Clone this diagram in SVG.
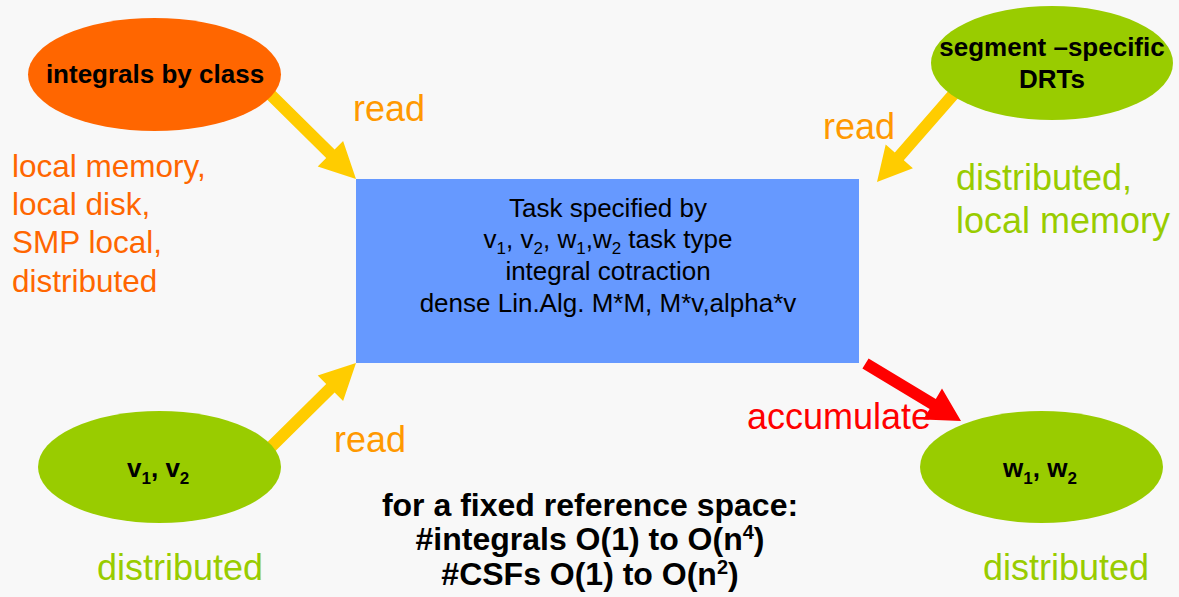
<svg xmlns="http://www.w3.org/2000/svg" width="1179" height="597" viewBox="0 0 1179 597">
<style>
text { font-family: "Liberation Sans", Arial, sans-serif; }
.bold { font-weight: bold; fill: #000; }
.node-label { font-size: 26px; text-anchor: middle; }
.box-label { font-size: 26px; fill: #000; text-anchor: middle; }
.read { font-size: 36px; fill: #ff9900; }
.green { font-size: 36px; fill: #99cc00; }
.orange { font-size: 31.5px; fill: #ff6600; }
.accum { font-size: 36px; fill: #ff0000; }
.note { font-size: 32px; text-anchor: middle; }
.yarrow { fill: #ffcc00; }
.rarrow { fill: #ff0000; }
</style>
<rect x="0" y="0" width="1179" height="597" fill="#f8f8f8"/>

<g id="connectors">
  <polygon class="yarrow" points="262.2,94.8 326.2,158.0 317.7,166.5 356,179 343.1,140.9 334.6,149.4 270.6,86.2"/>
  <polygon class="yarrow" points="951.4,87.6 894.8,152.5 885.7,144.6 877,182 912.9,168.2 903.8,160.3 960.4,95.4"/>
  <polygon class="yarrow" points="262.2,447.2 326.2,384.0 317.7,375.5 356,363 343.1,401.1 334.6,392.6 270.6,455.8"/>
  <polygon class="rarrow" points="862.4,368.6 929.6,409.1 923.4,419.4 961,421 942.0,388.6 935.8,398.9 868.6,358.4"/>
  <text class="read" x="353" y="121">read</text>
  <text class="read" x="823" y="139">read</text>
  <text class="read" x="334" y="452">read</text>
  <text class="accum" x="747" y="429">accumulate</text>
</g>

<g id="integrals">
  <ellipse cx="154.5" cy="74.5" rx="126.5" ry="56.5" fill="#ff6600"/>
  <text class="bold node-label" x="155" y="83">integrals by class</text>
  <text class="orange" x="12" y="177">local memory,</text>
  <text class="orange" x="12" y="215">local disk,</text>
  <text class="orange" x="12" y="253">SMP local,</text>
  <text class="orange" x="12" y="292">distributed</text>
</g>

<g id="drts">
  <ellipse cx="1052" cy="63" rx="121" ry="57" fill="#99cc00"/>
  <text class="bold node-label" x="1052" y="56">segment –specific</text>
  <text class="bold node-label" x="1052" y="88">DRTs</text>
  <text class="green" x="956" y="190">distributed,</text>
  <text class="green" x="956" y="233">local memory</text>
</g>

<g id="task">
  <rect x="356" y="179" width="503" height="184" fill="#6699ff"/>
  <text class="box-label" x="608" y="217">Task specified by</text>
  <text class="box-label" x="608" y="248">v<tspan dy="6" font-size="17">1</tspan><tspan dy="-6">, v</tspan><tspan dy="6" font-size="17">2</tspan><tspan dy="-6">, w</tspan><tspan dy="6" font-size="17">1</tspan><tspan dy="-6">,w</tspan><tspan dy="6" font-size="17">2</tspan><tspan dy="-6"> task type</tspan></text>
  <text class="box-label" x="608" y="280">integral cotraction</text>
  <text class="box-label" x="608" y="312">dense Lin.Alg. M*M, M*v,alpha*v</text>
</g>

<g id="v">
  <ellipse cx="159.5" cy="467" rx="121.5" ry="56" fill="#99cc00"/>
  <text class="bold" font-size="26" x="127" y="477">v<tspan dy="7" font-size="17">1</tspan><tspan dy="-7">, v</tspan><tspan dy="7" font-size="17">2</tspan></text>
  <text class="green" x="97" y="580">distributed</text>
</g>

<g id="w">
  <ellipse cx="1041.5" cy="467" rx="121.5" ry="56" fill="#99cc00"/>
  <text class="bold" font-size="26" x="1003" y="477">w<tspan dy="7" font-size="17">1</tspan><tspan dy="-7">, w</tspan><tspan dy="7" font-size="17">2</tspan></text>
  <text class="green" x="983" y="580">distributed</text>
</g>

<g id="note">
  <text class="bold note" x="590" y="516">for a fixed reference space:</text>
  <text class="bold note" x="590" y="550">#integrals O(1) to O(n<tspan dy="-11" font-size="20">4</tspan><tspan dy="11">)</tspan></text>
  <text class="bold note" x="590" y="585">#CSFs O(1) to O(n<tspan dy="-11" font-size="20">2</tspan><tspan dy="11">)</tspan></text>
</g>
</svg>
